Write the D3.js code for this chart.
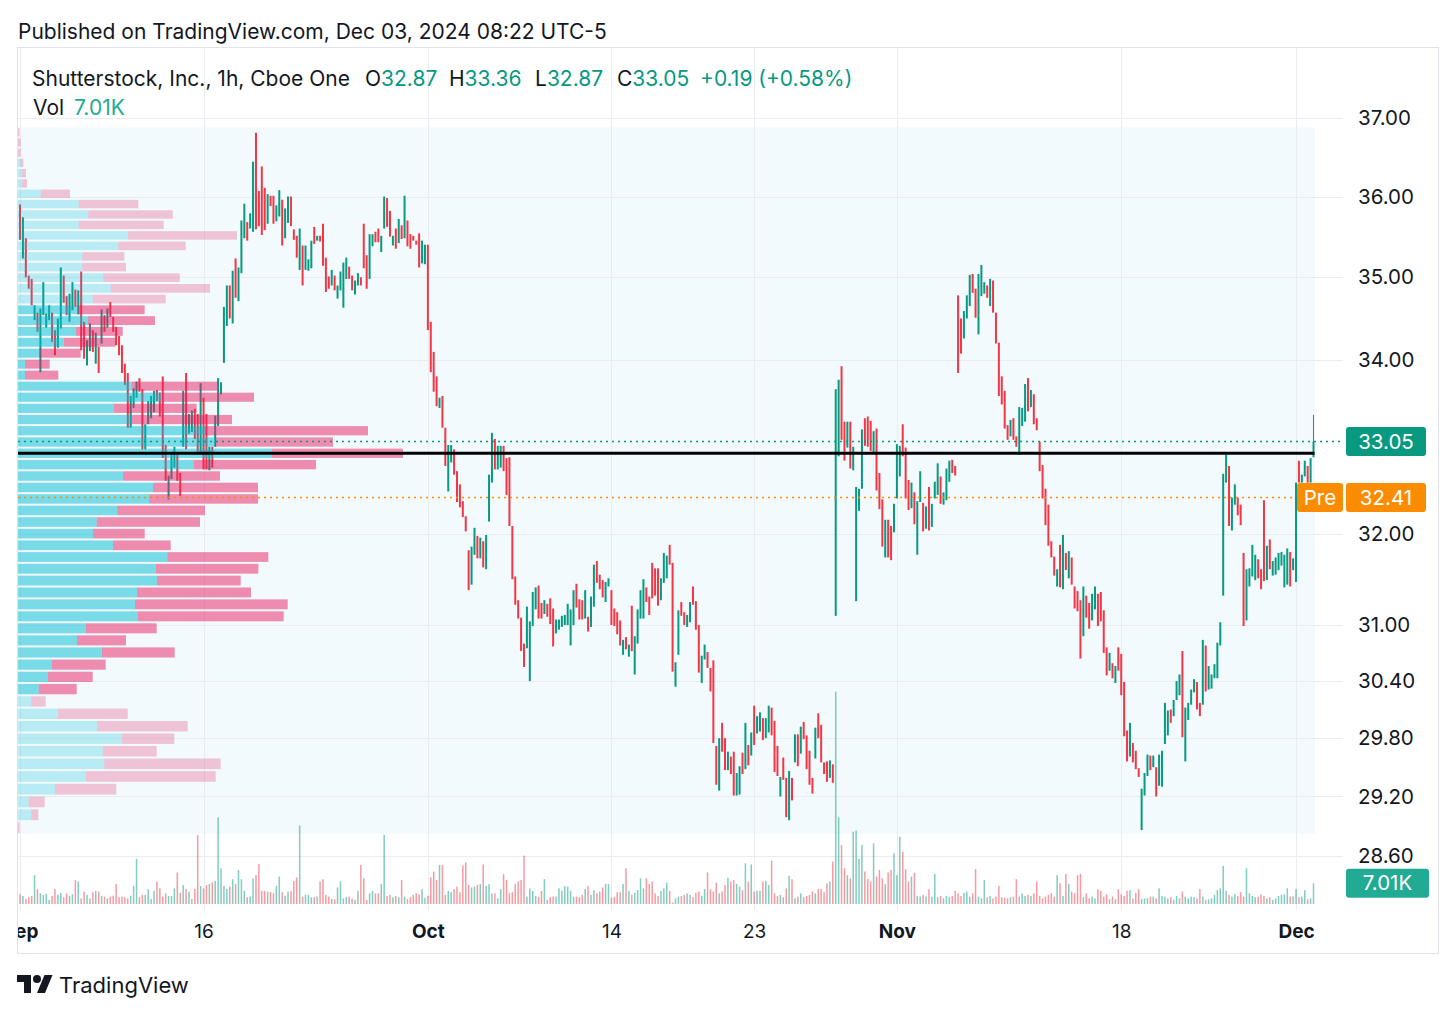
<!DOCTYPE html>
<html>
<head>
<meta charset="utf-8">
<script src="https://cdn.jsdelivr.net/npm/d3@7"></script>
<style>
  body { margin: 0; background: #fff; }
  svg { display: block; font-family: Inter, "Noto Sans", sans-serif; }
</style>
</head>
<body>
<svg width="1456" height="1016"></svg>
<script>
// hourly bars, Sep 3 - Dec 2 2024 (regular session)
const opens = [
  35.90,35.23,35.48,35.02,34.98,34.48,34.57,33.86,34.54,34.39,34.48,34.57,34.36,34.15,34.38,35.02,34.77,34.46,34.60,34.85,
  34.55,35.07,34.46,33.94,34.11,34.36,33.96,34.16,34.20,34.54,34.39,34.70,34.52,34.40,34.29,34.18,33.96,33.85,33.21,33.44,
  33.56,33.79,33.66,32.96,33.25,33.32,33.39,33.65,33.62,33.81,33.01,32.39,32.62,32.75,32.90,32.69,32.99,33.85,33.14,33.16,
  33.43,33.37,32.90,33.56,33.37,32.72,32.99,32.99,33.23,33.60,33.97,34.41,34.90,34.44,
  35.23,34.71,35.05,35.48,35.68,35.60,35.56,36.81,36.07,36.38,36.11,35.66,36.01,36.01,35.69,35.75,35.96,35.48,35.67,36.00,
  35.59,35.51,35.09,35.39,35.09,35.08,35.11,35.62,35.45,35.51,35.66,35.24,35.01,34.90,35.02,34.74,34.84,34.63,34.98,35.13,
  35.02,34.79,34.90,35.00,35.66,35.27,34.98,35.38,35.56,35.60,35.31,35.60,35.98,35.82,35.39,35.60,35.42,35.64,35.48,35.70,
  35.53,35.51,35.45,35.54,35.17,35.16,35.40,
  34.46,34.10,33.81,33.44,33.58,33.21,32.48,32.81,32.96,32.71,32.56,32.37,32.20,31.82,31.44,31.77,31.98,31.73,31.92,31.61,
  32.14,32.58,33.08,32.73,32.75,33.00,32.86,32.87,32.09,31.53,31.27,31.08,30.80,30.75,30.40,30.99,31.17,31.43,31.24,31.12,
  31.23,31.29,31.18,30.91,30.95,30.98,31.00,31.00,30.78,31.00,31.45,31.28,31.27,31.07,31.09,30.98,31.20,31.70,31.55,31.49,
  31.25,31.42,31.38,31.18,31.14,31.05,30.68,30.87,30.66,31.21,30.47,30.80,31.07,31.07,
  31.41,31.31,31.68,31.62,31.62,31.27,31.46,31.51,31.88,31.68,30.34,30.68,31.25,31.14,30.98,31.03,31.42,31.26,31.00,30.38,
  30.63,30.71,30.54,30.62,29.72,29.26,29.96,29.80,29.47,29.61,29.66,29.21,29.22,29.65,29.48,29.73,29.62,30.14,29.85,29.87,
  30.01,29.80,29.86,30.12,29.98,29.72,29.20,29.60,29.39,28.96,29.39,29.55,29.84,29.64,29.97,29.83,29.67,29.39,29.59,30.06,
  29.94,29.55,29.56,29.39,29.53,
  31.10,32.88,33.93,33.28,32.98,33.28,32.72,31.26,32.26,32.51,33.32,33.34,33.29,32.92,33.20,32.69,32.39,31.74,32.16,32.09,
  32.02,32.40,32.65,33.25,32.98,32.61,32.29,32.47,31.77,32.36,32.35,32.06,32.53,32.08,32.40,32.44,32.65,32.33,32.38,32.59,
  32.84,32.77,34.78,34.50,34.26,34.50,34.65,35.04,34.86,34.31,34.77,34.80,34.90,34.65,34.96,34.57,34.21,33.81,33.64,33.24,
  33.11,33.32,33.11,32.90,33.23,33.28,33.79,33.45,33.60,33.32,33.05,
  32.78,32.51,32.33,31.92,31.75,31.42,31.88,31.39,31.79,31.51,31.74,31.42,31.37,31.27,30.88,31.32,31.24,31.05,31.17,31.34,
  31.36,31.16,30.76,30.51,30.59,30.38,30.76,30.69,30.39,29.88,29.61,29.75,29.67,29.49,28.86,29.21,29.41,29.62,29.50,29.50,
  29.31,29.30,29.74,29.83,30.10,30.03,30.20,30.25,30.72,29.56,29.99,30.15,30.28,30.39,30.17,30.15,30.78,30.31,30.32,30.43,
  30.43,30.78,
  31.32,32.58,32.77,32.04,32.33,32.41,32.33,31.79,31.05,31.42,31.53,31.49,31.72,31.61,32.38,31.49,31.94,31.54,31.55,31.60,
  31.65,31.41,31.44,31.80,31.60,31.47,32.83,32.58,32.65,32.77,32.58,32.87
];
const closes = [
  35.46,35.74,35.00,34.86,34.66,34.66,34.34,34.62,34.94,34.56,34.66,34.22,34.06,34.50,35.12,34.69,34.54,34.80,34.94,34.64,
  34.84,34.12,34.02,34.24,34.44,34.10,34.33,33.85,34.61,34.34,34.62,34.52,34.34,34.18,34.06,33.85,33.71,33.21,33.58,33.67,
  33.75,33.63,32.96,33.25,33.52,33.58,33.64,33.52,33.34,32.86,32.60,32.66,32.92,32.99,32.60,32.43,33.64,32.96,33.37,33.41,
  33.08,32.90,33.73,32.73,32.73,32.99,32.75,33.35,33.79,33.74,34.64,34.90,34.50,35.08,
  34.75,35.12,35.70,35.91,35.45,35.79,36.44,35.59,35.63,35.52,35.58,36.03,35.88,35.66,35.89,36.08,35.39,35.85,36.00,35.63,
  35.46,35.24,35.60,34.90,35.39,35.22,35.45,35.41,35.51,35.44,35.14,34.82,34.86,35.09,34.84,34.90,35.07,35.18,35.24,34.98,
  34.84,34.96,35.05,34.90,35.11,34.86,35.53,35.53,35.43,35.43,35.51,36.00,35.62,35.50,35.51,35.35,35.72,35.47,36.01,35.38,
  35.35,35.45,35.40,35.12,35.45,35.40,34.36,
  33.86,33.63,33.46,33.56,33.21,32.77,33.01,33.01,32.67,32.36,32.30,32.19,32.03,31.38,31.86,32.07,31.73,31.96,31.63,31.99,
  32.67,33.15,32.73,33.00,33.00,32.71,32.44,32.09,31.50,31.22,31.07,30.72,30.55,31.20,31.04,31.36,31.41,31.07,31.07,31.27,
  31.09,31.01,30.77,31.06,31.06,31.10,31.11,31.23,31.17,31.38,31.19,31.06,31.06,31.38,30.93,31.31,31.66,31.46,31.39,31.30,
  31.47,31.51,31.00,30.99,30.90,30.78,30.84,30.74,30.79,30.72,30.88,31.17,31.38,31.50,
  31.25,31.11,31.29,31.32,31.21,31.51,31.79,31.76,31.66,30.50,30.60,31.16,31.10,31.00,31.11,31.25,31.22,30.95,30.49,30.67,
  30.79,30.54,30.29,29.75,29.32,29.80,29.66,29.47,29.66,29.43,29.21,29.44,29.51,29.43,29.96,29.52,29.86,29.73,30.03,30.07,
  29.78,30.01,30.14,29.83,29.45,29.41,29.40,29.37,28.99,29.46,29.16,29.84,29.51,29.92,29.79,29.48,29.32,29.23,29.91,29.80,
  29.55,29.43,29.35,29.57,29.34,
  33.66,33.77,33.07,32.83,33.28,32.74,32.99,32.53,32.51,33.19,33.00,32.99,32.94,33.17,32.49,32.28,31.86,32.16,31.74,31.71,
  32.34,33.02,33.00,32.88,32.40,32.27,32.58,32.11,32.37,32.71,32.03,32.31,32.04,32.34,32.59,32.80,32.34,32.47,32.74,32.83,
  32.69,32.66,33.85,34.08,34.59,34.78,35.03,34.81,34.51,35.04,35.15,34.94,34.75,34.98,34.57,34.20,33.58,33.48,33.20,33.07,
  33.30,33.07,32.99,33.45,33.44,33.72,33.40,33.65,33.25,33.18,32.71,
  32.40,32.10,31.87,31.74,31.54,31.61,31.41,31.99,31.60,31.81,31.44,31.18,31.15,30.64,31.42,31.08,30.96,31.34,31.42,30.99,
  31.04,30.70,30.46,30.70,30.43,30.56,30.51,30.25,29.82,29.56,29.96,29.55,29.48,29.40,29.28,29.44,29.63,29.47,29.62,29.20,
  29.63,29.67,30.17,30.09,29.96,30.20,30.40,30.47,29.81,30.12,30.17,30.31,30.42,30.10,30.03,30.84,30.29,30.56,30.47,30.58,
  30.81,31.03,
  32.68,32.90,32.09,32.41,32.56,32.21,32.10,30.99,31.61,31.62,31.88,31.77,31.51,31.39,31.48,31.87,31.61,31.70,31.74,31.79,
  31.80,31.77,31.84,31.42,31.73,32.58,32.58,32.67,32.83,32.58,32.86,33.05
];
// volume per bar, thousands of shares
const volumes = [
  3.3,2.7,1.7,2.3,2.7,9.8,5.0,3.6,3.1,3.4,1.4,2.7,5.1,3.1,3.8,2.3,3.6,2.8,3.3,8.1,
  7.6,1.9,4.2,3.1,1.9,4.0,4.4,4.2,2.7,2.5,1.9,2.5,2.8,6.8,2.3,2.5,2.3,1.9,2.8,6.1,
  15.3,2.3,3.1,3.1,5.0,1.7,4.5,7.6,5.3,2.5,3.6,2.7,2.7,5.3,10.7,3.8,6.4,5.1,4.2,1.7,
  5.1,23.4,6.1,5.3,6.4,6.8,7.3,7.8,29.4,12.1,6.1,5.1,5.9,8.4,6.8,11.5,8.4,4.5,2.3,2.5,
  8.7,9.8,13.6,4.4,4.4,4.2,4.1,3.6,6.1,9.3,4.0,2.8,4.2,4.4,7.8,9.0,26.6,2.5,3.1,3.1,
  2.3,2.3,2.5,7.6,8.4,3.1,2.5,1.7,1.6,5.6,7.6,1.9,2.3,2.5,1.9,1.4,4.5,13.2,8.7,1.4,
  3.6,4.4,3.6,3.6,6.8,23.4,2.7,3.1,2.3,2.7,2.3,8.1,2.5,1.7,2.3,3.1,3.6,3.3,5.0,2.1,
  2.8,9.0,11.0,8.1,13.2,13.2,3.1,4.4,4.0,5.0,5.9,4.0,13.0,14.1,6.4,5.6,5.9,6.4,6.8,13.4,
  6.1,6.8,3.6,3.6,1.9,5.0,10.1,8.1,3.6,4.0,6.8,7.6,8.1,16.4,2.5,5.3,4.4,2.7,2.3,4.4,
  8.4,1.4,2.3,2.5,2.5,5.3,4.5,6.1,5.9,4.5,2.3,2.5,2.3,3.1,5.1,6.1,3.1,4.7,3.6,4.2,
  5.6,6.8,6.8,2.1,2.3,4.0,4.0,6.8,12.1,4.5,3.1,3.8,4.7,8.7,5.3,8.7,6.8,7.6,3.6,2.7,
  4.4,5.3,7.3,4.4,0.5,1.9,2.5,2.7,3.1,3.6,3.1,2.3,3.8,4.2,2.8,5.1,10.7,5.0,4.2,7.2,
  3.6,4.2,6.4,8.9,
  7.6,8.1,6.8,5.9,4.7,13.8,7.6,13.4,4.2,4.5,4.5,7.6,7.9,6.4,14.7,3.6,2.7,3.1,2.3,5.3,
  9.5,8.4,1.9,2.5,3.6,2.3,2.7,3.1,4.2,3.6,5.1,5.1,4.0,7.0,7.6,14.4,72.0,29.4,20.0,12.1,
  9.8,8.7,24.5,24.9,15.3,20.0,11.0,8.5,7.6,20.6,9.3,11.5,8.7,6.7,10.7,11.5,17.2,9.8,22.8,17.7,
  11.8,7.6,9.3,10.6,2.7,2.5,3.1,2.5,5.0,2.5,10.2,2.3,2.7,1.9,2.7,2.3,2.7,4.5,3.6,2.7,
  3.8,4.2,2.5,3.6,11.8,2.5,1.9,8.1,2.3,2.7,1.9,2.5,6.1,2.3,2.1,1.9,2.3,2.5,8.4,2.5,
  3.6,2.7,3.1,2.7,3.6,7.6,2.7,1.9,2.5,3.1,3.6,2.5,9.8,7.0,2.7,10.2,6.8,4.2,3.6,9.8,
  10.2,2.3,3.6,1.9,2.5,1.9,5.0,4.5,2.5,3.3,1.6,2.5,1.6,5.0,3.3,2.7,4.5,4.7,1.9,3.8,
  5.0,1.7,1.9,1.9,2.5,2.5,1.9,5.3,2.7,2.5,1.9,2.3,1.4,2.7,1.9,4.2,2.5,1.9,2.5,2.3,
  1.9,5.1,2.5,1.4,1.6,1.9,3.1,4.7,5.3,12.9,4.5,3.1,2.5,3.3,2.7,4.0,2.5,12.1,3.6,2.7,
  2.3,2.5,3.3,2.7,1.9,2.3,1.4,1.9,2.7,3.1,3.3,5.3,2.5,2.5,5.1,2.3,2.5,4.7,1.6,1.9,
  7.01
];
const lastBar = { o: 32.87, h: 33.36, l: 32.87, c: 33.05 };
const preMarket = 32.41;

// visible range volume profile, rows from top (high price) to bottom
const vpHigh = 36.88, vpLow = 28.82;
const vpUp = [
  0,0,0,2.7,3.7,3.7,22.7,60.7,70.3,60.7,110,100.3,64.3,64.3,85.3,92.7,74.7,60.3,69.7,58,
  46,21,7,7,113.7,143.7,96,113.7,187,197,254,176,105,135,131,99.3,78.7,75,95,149.3,
  138,139,119,117,120,68,59,84,34,30,20.7,13.3,40,79,104,84.7,86.3,68,37,10.7,
  13.3,0
];
const vpDown = [
  1.5,2.7,2.7,2.6,4.3,5.3,29.3,59.6,84.4,85,109,67.4,42,43.7,76.4,99.3,73,66.4,67.3,46.7,
  51.7,41.7,24.7,33.3,86.6,92.3,82.7,100.3,163,118,131,122,97,105,109,87.7,103.3,51.7,57.7,101,
  102.3,83.7,114,152.7,145.7,70.7,49,72.7,53.7,44.7,38,14.4,69.7,90.7,52.3,54,116.4,129.7,61.3,16,
  7,1.6
];
const valueAreaRows = [17, 50];

const priceTicks = [37, 36, 35, 34, 32, 31, 30.4, 29.8, 29.2, 28.6];
const timeTicks = [0, 63, 140, 203, 252, 301, 378, 438];
const timeLabels = ['Sep', '16', 'Oct', '14', '23', 'Nov', '18', 'Dec'];

const svg = d3.select('svg');
const up = '#089981', down = '#F23645', ink = '#131722';
const font = 'Inter, "Noto Sans", sans-serif';
const n = opens.length;

const x = d3.scaleLinear().domain([0, n - 1]).range([20, 1313.5]);
const y = d3.scaleLog().domain([28.6, 37]).range([856, 118]);
const yVol = d3.scaleLinear().domain([0, 100]).range([904, 609]);
const plotRight = 1343;

// frame
svg.append('rect')
    .attr('x', 17.5).attr('y', 47.5)
    .attr('width', 1421).attr('height', 906)
    .attr('fill', 'none').attr('stroke', '#E0E3EB');

// profile background
svg.append('rect')
    .attr('x', 18).attr('y', y(vpHigh))
    .attr('width', x(n - 1) + 1.5 - 18)
    .attr('height', y(vpLow) - y(vpHigh))
    .attr('fill', '#F2FAFD');

// grid
const grid = svg.append('g').attr('stroke', '#E9EDF2').attr('stroke-width', 1);
grid.selectAll('.hg').data(priceTicks).join('line')
    .attr('x1', 18).attr('x2', plotRight)
    .attr('y1', d => Math.round(y(d)) + 0.5).attr('y2', d => Math.round(y(d)) + 0.5);
grid.selectAll('.vg').data(timeTicks).join('line')
    .attr('x1', d => Math.round(x(d)) + 0.5).attr('x2', d => Math.round(x(d)) + 0.5)
    .attr('y1', 48).attr('y2', 910);

// volume
svg.append('g').selectAll('rect').data(volumes).join('rect')
    .attr('x', (d, i) => x(i) - 0.75).attr('width', 1.5)
    .attr('y', d => yVol(d))
    .attr('height', d => yVol(0) - yVol(d))
    .attr('fill', (d, i) => closes[i] >= opens[i] ? 'rgba(8,153,129,0.5)' : 'rgba(242,54,69,0.5)');

// candles
svg.append('line')
    .attr('x1', x(n - 1)).attr('x2', x(n - 1))
    .attr('y1', y(lastBar.h)).attr('y2', y(lastBar.l))
    .attr('stroke', up).attr('stroke-width', 1);
svg.append('g').selectAll('rect').data(opens).join('rect')
    .attr('x', (d, i) => x(i) - 1).attr('width', 2)
    .attr('y', (d, i) => y(Math.max(d, closes[i])))
    .attr('height', (d, i) => Math.max(1, y(Math.min(d, closes[i])) - y(Math.max(d, closes[i]))))
    .attr('fill', (d, i) => closes[i] >= d ? up : down);

// volume profile rows
const step = (vpHigh - vpLow) / vpUp.length;
const totals = vpUp.map((d, i) => d + vpDown[i]);
const vpX = d3.scaleLinear().domain([0, d3.max(totals)]).range([0, 385]);
const inVA = i => i >= valueAreaRows[0] && i <= valueAreaRows[1];
const rowTop = i => y(vpHigh - i * step) + 1;
const rowH = i => y(vpHigh - (i + 1) * step) - y(vpHigh - i * step) - 2;
const vp = svg.append('g');
vp.selectAll('.u').data(vpUp).join('rect')
    .attr('x', 18).attr('y', (d, i) => rowTop(i))
    .attr('width', d => vpX(d)).attr('height', (d, i) => rowH(i))
    .attr('fill', (d, i) => inVA(i) ? 'rgba(0,188,212,0.5)' : 'rgba(0,188,212,0.24)');
vp.selectAll('.d').data(vpDown).join('rect')
    .attr('x', (d, i) => 18 + vpX(vpUp[i])).attr('y', (d, i) => rowTop(i))
    .attr('width', d => vpX(d)).attr('height', (d, i) => rowH(i))
    .attr('fill', (d, i) => inVA(i) ? 'rgba(233,30,99,0.5)' : 'rgba(233,30,99,0.25)');

// point of control
const poc = totals.indexOf(d3.max(totals));
const pocPrice = vpHigh - (poc + 0.5) * step;
svg.append('line')
    .attr('x1', 18).attr('x2', x(n - 1) + 1)
    .attr('y1', y(pocPrice)).attr('y2', y(pocPrice))
    .attr('stroke', '#000').attr('stroke-width', 3);

// last price and pre-market lines
svg.append('line')
    .attr('x1', 18).attr('x2', plotRight)
    .attr('y1', y(lastBar.c)).attr('y2', y(lastBar.c))
    .attr('stroke', up).attr('stroke-width', 1.5).attr('stroke-dasharray', '2,4');
svg.append('line')
    .attr('x1', 18).attr('x2', 1296)
    .attr('y1', y(preMarket)).attr('y2', y(preMarket))
    .attr('stroke', '#FB8C00').attr('stroke-width', 1.5).attr('stroke-dasharray', '2,4');

// price axis
const yAxis = svg.append('g')
    .attr('transform', `translate(${plotRight},0)`)
    .call(d3.axisRight(y).tickValues(priceTicks).tickFormat(d3.format('.2f')).tickSize(0).tickPadding(15));
yAxis.select('.domain').remove();
yAxis.attr('font-size', 20.5).attr('font-family', font);
yAxis.selectAll('text').attr('fill', ink);

// time axis
svg.append('clipPath').attr('id', 'clipX')
    .append('rect').attr('x', 18).attr('y', 911).attr('width', 1420).attr('height', 40);
const xAxis = svg.append('g').attr('clip-path', 'url(#clipX)')
    .append('g')
    .attr('transform', 'translate(0,910)')
    .call(d3.axisBottom(x).tickValues(timeTicks).tickFormat((d, i) => timeLabels[i]).tickSize(0).tickPadding(15));
xAxis.select('.domain').remove();
xAxis.attr('font-size', 19).attr('font-family', font);
xAxis.selectAll('text')
    .attr('fill', ink)
    .attr('font-weight', (d, i) => /[A-Za-z]/.test(timeLabels[i]) ? 700 : 400);

// badges on the price scale
const badge = (yc, w, fill, label, x0) => {
    svg.append('rect')
        .attr('x', x0).attr('y', yc - 14.5)
        .attr('width', w).attr('height', 29).attr('rx', 3)
        .attr('fill', fill);
    svg.append('text')
        .attr('x', x0 + w / 2).attr('y', yc).attr('dy', '0.35em')
        .attr('text-anchor', 'middle')
        .attr('font-size', 20.5).attr('fill', '#fff')
        .text(label);
};
badge(y(lastBar.c), 80, up, lastBar.c.toFixed(2), 1346);
badge(y(preMarket), 46, '#FB8C00', 'Pre', 1297);
badge(y(preMarket), 80, '#FB8C00', preMarket.toFixed(2), 1346);
badge(yVol(volumes[n - 1]), 83, '#22AB94', volumes[n - 1].toFixed(2) + 'K', 1346);

// header texts
svg.append('text')
    .attr('x', 18).attr('y', 39)
    .attr('font-size', 21).attr('fill', ink)
    .text('Published on TradingView.com, Dec 03, 2024 08:22 UTC-5');

svg.append('text')
    .attr('x', 32).attr('y', 86)
    .attr('font-size', 21).attr('fill', ink)
    .text('Shutterstock, Inc., 1h, Cboe One');

const prevClose = closes[n - 2];
const chg = lastBar.c - prevClose;
const ohlc = [['O', lastBar.o, 365], ['H', lastBar.h, 449], ['L', lastBar.l, 535], ['C', lastBar.c, 617]];
ohlc.forEach(([k, v, px]) => {
    const t = svg.append('text').attr('x', px).attr('y', 86).attr('font-size', 21).attr('fill', ink);
    t.append('tspan').text(k);
    t.append('tspan').attr('fill', up).text(v.toFixed(2));
});
svg.append('text')
    .attr('x', 700).attr('y', 86)
    .attr('font-size', 21).attr('fill', up)
    .text(`+${chg.toFixed(2)} (+${(chg / prevClose * 100).toFixed(2)}%)`);

const volT = svg.append('text').attr('x', 33).attr('y', 115).attr('font-size', 21).attr('fill', ink);
volT.append('tspan').text('Vol');
volT.append('tspan').attr('dx', 10).attr('fill', '#22AB94').text(volumes[n - 1].toFixed(2) + 'K');

// footer logo
const logo = svg.append('g').attr('transform', 'translate(17,971)').attr('fill', ink);
logo.append('path').attr('d', 'M14 22H7V11H0V4h14v18zM28 22h-8l7.5-18h8L28 22z');
logo.append('circle').attr('cx', 20).attr('cy', 8).attr('r', 4);
svg.append('text')
    .attr('x', 59).attr('y', 993)
    .attr('font-size', 22).attr('fill', ink)
    .text('TradingView');
</script>
</body>
</html>
